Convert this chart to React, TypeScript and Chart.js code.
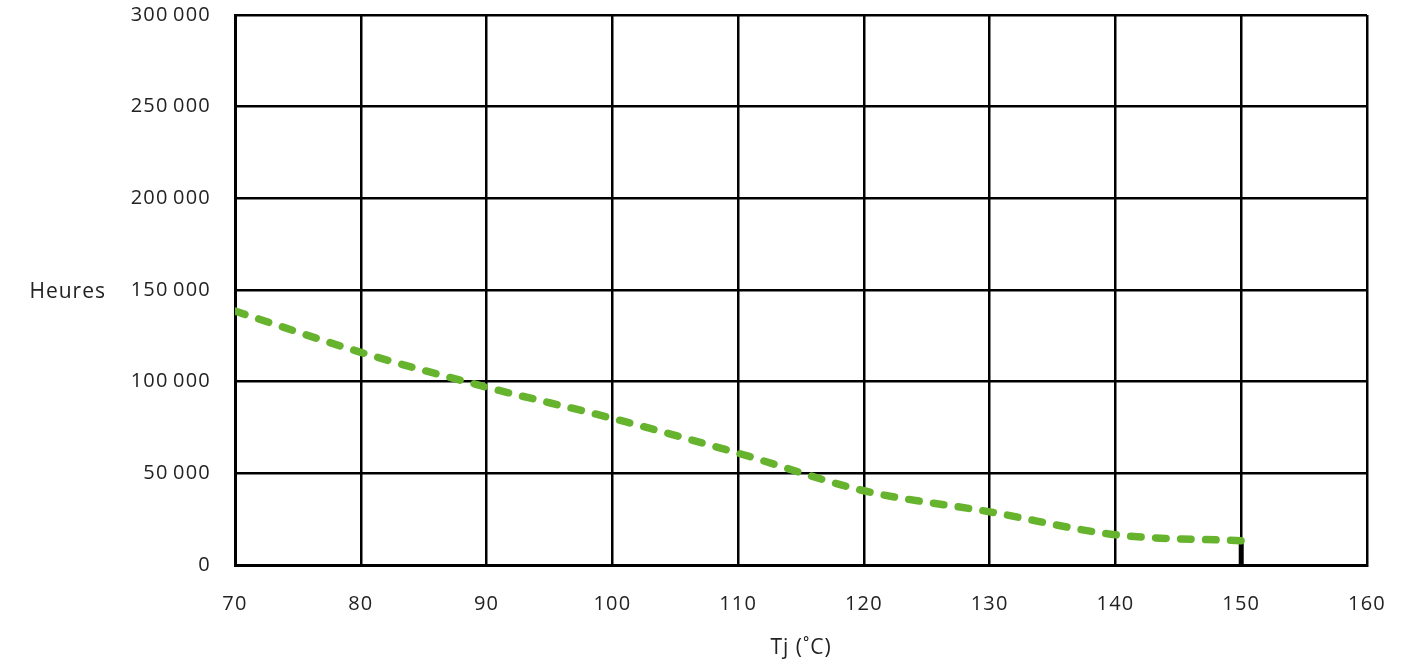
import React, { useEffect, useRef } from "react";
import { Chart, registerables } from "chart.js";

Chart.register(...registerables);

// Junction temperature (°C)
const tjValues = [70, 80, 90, 100, 110, 120, 130, 140, 150];
// Lifetime (hours)
const hoursValues = [138500, 116000, 97000, 80000, 61000, 40500, 29000, 16500, 13200];
// End marker at 150 °C
const markerX = [150, 150];
const markerY = [0, 14500];

const xTicks = [70, 80, 90, 100, 110, 120, 130, 140, 150, 160];
const yTicks = [0, 50000, 100000, 150000, 200000, 250000, 300000];
const yTickLabels = ["0", "50\u2009000", "100\u2009000", "150\u2009000", "200\u2009000", "250\u2009000", "300\u2009000"];
const xTitle = "Tj (˚C)";
const yTitle = "Heures";

const FONT = "'Open Sans', Lato, sans-serif";

export default function App() {
  const ref = useRef<HTMLCanvasElement | null>(null);

  useEffect(() => {
    if (!ref.current) return;
    const spacing = {
      id: "spacing",
      beforeDraw(chart: any) {
        (chart.ctx as any).letterSpacing = "1.2px";
      },
    };
    const titles = {
      id: "titles",
      afterDraw(chart: any) {
        const ctx = chart.ctx;
        const ys = chart.scales.y;
        const area = chart.chartArea;
        ctx.save();
        ctx.fillStyle = "#222";
        ctx.font = `21px ${FONT}`;
        (ctx as any).letterSpacing = "1px";
        ctx.textBaseline = "middle";
        ctx.textAlign = "right";
        ctx.fillText(yTitle, 106, ys.getPixelForValue(150000) + 2);
        ctx.textAlign = "center";
        ctx.fillText(xTitle, (area.left + area.right) / 2, 648);
        ctx.restore();
      },
    };
    const chart = new Chart(ref.current, {
      type: "line",
      data: {
        datasets: [
          {
            data: tjValues.map((x, i) => ({ x, y: hoursValues[i] })),
            borderColor: "#66b32e",
            borderWidth: 7.5,
            borderDash: [10.5, 14.5],
            borderCapStyle: "round",
            pointRadius: 0,
            tension: 0.3,
            cubicInterpolationMode: "monotone",
            fill: false,
          },
          {
            data: markerX.map((x, i) => ({ x, y: markerY[i] })),
            borderColor: "#000",
            borderWidth: 5,
            pointRadius: 0,
            fill: false,
          },
        ],
      },
      options: {
        animation: false,
        responsive: false,
        maintainAspectRatio: false,
        layout: { padding: { top: 15, right: 60, left: 0, bottom: 0 } },
        plugins: { legend: { display: false }, tooltip: { enabled: false } },
        scales: {
          x: {
            type: "linear",
            min: 70,
            max: 160,
            afterBuildTicks: (s: any) => {
              s.ticks = xTicks.map((v) => ({ value: v }));
            },
            afterFit: (s: any) => {
              s.height = 99;
              s.paddingLeft = 0;
              s.paddingRight = 0;
            },
            grid: { color: "#000", lineWidth: 2.5, drawTicks: false },
            border: { color: "#000", width: 3 },
            ticks: {
              padding: 27,
              color: "#222",
              font: { family: FONT, size: 20 },
              maxRotation: 0,
            },
          },
          y: {
            type: "linear",
            min: 0,
            max: 300000,
            afterBuildTicks: (s: any) => {
              s.ticks = yTicks.map((v) => ({ value: v }));
            },
            afterFit: (s: any) => {
              s.width = 235;
              s.paddingTop = 0;
              s.paddingBottom = 0;
            },
            grid: { color: "#000", lineWidth: 2.5, drawTicks: false },
            border: { color: "#000", width: 3 },
            ticks: {
              padding: 24,
              color: "#222",
              font: { family: FONT, size: 20 },
              callback: (v: any) => {
                const i = yTicks.indexOf(Number(v));
                return i >= 0 ? yTickLabels[i] : "";
              },
            },
          },
        },
      },
      plugins: [spacing, titles],
    } as any);
    return () => chart.destroy();
  }, []);

  return (
    <div style={{ position: "fixed", left: 0, top: 0, width: 1427, height: 664, background: "#fff" }}>
      <canvas ref={ref} width={1427} height={664} style={{ display: "block" }} />
    </div>
  );
}
